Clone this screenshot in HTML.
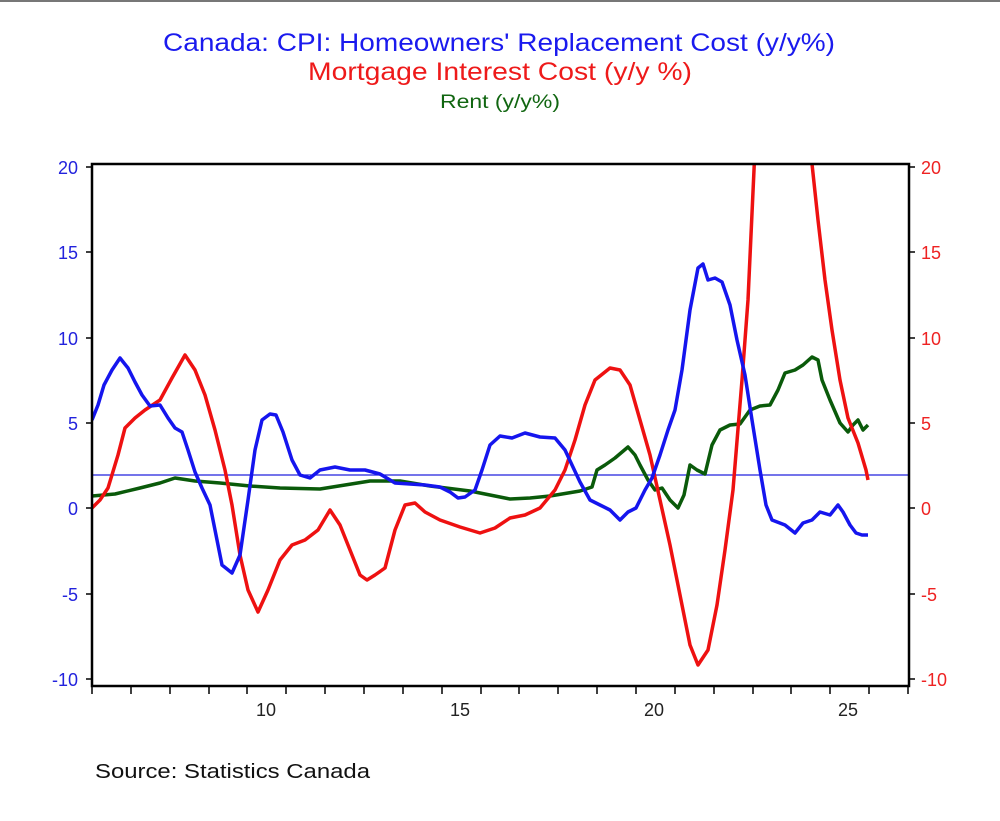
<!DOCTYPE html>
<html><head><meta charset="utf-8"><style>
body{margin:0;background:#fff;}
svg{display:block;font-family:"Liberation Sans",Arial,sans-serif;}
</style></head><body>
<svg width="1000" height="821" viewBox="0 0 1000 821">
<rect width="1000" height="821" fill="#fff"/>
<rect x="0" y="0" width="1000" height="2" fill="#777"/>
<text x="163" y="51" font-size="25" fill="#1a1aee" textLength="672" lengthAdjust="spacingAndGlyphs">Canada: CPI: Homeowners' Replacement Cost (y/y%)</text>
<text x="308" y="80" font-size="25" fill="#ee1a1a" textLength="384" lengthAdjust="spacingAndGlyphs">Mortgage Interest Cost (y/y %)</text>
<text x="440" y="108" font-size="19" fill="#116611" textLength="120" lengthAdjust="spacingAndGlyphs">Rent (y/y%)</text>
<defs><clipPath id="c"><rect x="92" y="164" width="817" height="522"/></clipPath></defs>
<line x1="92" y1="475" x2="909" y2="475" stroke="#2222dd" stroke-width="1.2"/>
<g clip-path="url(#c)" fill="none" stroke-width="3.5" stroke-linejoin="round">
<polyline stroke="#0a5a0a" points="92,496 115,494 140,488 160,483 175,478 195,481 220,483 250,486 280,488 320,489 345,485 370,481 400,481 430,486 470,491 510,499 530,498 550,496 580,491 592,487 597,470 605,465 615,458 628,447 635,455 640,465 648,480 655,490 662,488 670,500 678,508 684,495 690,465 697,470 705,474 712,445 720,430 730,425 740,424 750,410 760,406 770,405 778,390 785,373 795,370 803,365 812,357 818,360 822,380 830,400 840,423 848,432 853,425 858,420 863,430 868,425"/>
<polyline stroke="#ee1111" points="92,508 100,500 108,488 118,455 125,428 135,418 145,410 160,400 172,378 185,355 195,370 205,395 215,430 225,470 232,505 240,555 248,590 258,612 268,590 280,560 292,545 305,540 318,530 330,510 340,525 350,550 360,575 367,580 375,575 385,568 395,530 405,505 415,503 425,512 440,520 460,527 480,533 495,528 510,518 525,515 540,508 555,490 565,470 575,440 585,405 595,380 610,368 620,370 630,385 640,420 650,455 660,500 670,545 680,595 690,645 698,665 708,650 717,605 725,550 733,490 742,380 748,300 754,170 758,80 808,80 812,164 818,220 825,280 832,330 840,380 848,418 858,443 866,470 868,480"/>
<polyline stroke="#1515ee" points="92,420 98,405 104,385 112,370 120,358 128,368 135,382 142,395 150,406 160,405 168,418 175,428 182,432 188,450 195,472 202,488 210,505 216,535 222,565 232,573 240,555 248,500 255,450 262,420 270,414 276,415 283,432 292,460 300,475 310,478 320,470 335,467 350,470 365,470 380,474 395,483 410,484 425,485 440,487 450,492 458,498 465,497 475,490 482,470 490,445 500,436 512,438 525,433 540,437 555,438 565,450 572,465 580,482 590,500 600,505 610,510 620,520 628,512 636,508 645,490 652,478 660,455 668,430 675,410 682,370 690,310 698,268 703,264 708,280 715,278 722,282 730,305 737,340 745,375 752,420 760,470 766,505 772,520 785,525 795,533 803,523 812,520 820,512 830,515 838,505 843,512 850,525 856,533 862,535 868,535"/>
</g>
<rect x="92" y="164" width="817" height="522" fill="none" stroke="#000" stroke-width="2.5"/>
<g stroke="#000" stroke-width="1.5">
<line x1="86" y1="167" x2="92" y2="167"/><line x1="86" y1="252" x2="92" y2="252"/><line x1="86" y1="338" x2="92" y2="338"/><line x1="86" y1="423" x2="92" y2="423"/><line x1="86" y1="508" x2="92" y2="508"/><line x1="86" y1="594" x2="92" y2="594"/><line x1="86" y1="679" x2="92" y2="679"/>
<line x1="909" y1="167" x2="915" y2="167"/><line x1="909" y1="252" x2="915" y2="252"/><line x1="909" y1="338" x2="915" y2="338"/><line x1="909" y1="423" x2="915" y2="423"/><line x1="909" y1="508" x2="915" y2="508"/><line x1="909" y1="594" x2="915" y2="594"/><line x1="909" y1="679" x2="915" y2="679"/>
</g>
<g font-size="18" fill="#2222dd" text-anchor="end">
<text x="78" y="174">20</text><text x="78" y="259">15</text><text x="78" y="345">10</text><text x="78" y="430">5</text><text x="78" y="515">0</text><text x="78" y="601">-5</text><text x="78" y="686">-10</text>
</g>
<g font-size="18" fill="#ee2222" text-anchor="start">
<text x="921" y="174">20</text><text x="921" y="259">15</text><text x="921" y="345">10</text><text x="921" y="430">5</text><text x="921" y="515">0</text><text x="921" y="601">-5</text><text x="921" y="686">-10</text>
</g>
<g font-size="18" fill="#222" text-anchor="middle">
<text x="266" y="716">10</text><text x="460" y="716">15</text><text x="654" y="716">20</text><text x="848" y="716">25</text>
</g>
<g stroke="#000" stroke-width="1.5">
<line x1="92" y1="686" x2="92" y2="694"/><line x1="131" y1="686" x2="131" y2="694"/><line x1="170" y1="686" x2="170" y2="694"/><line x1="209" y1="686" x2="209" y2="694"/><line x1="247" y1="686" x2="247" y2="694"/><line x1="286" y1="686" x2="286" y2="694"/><line x1="325" y1="686" x2="325" y2="694"/><line x1="364" y1="686" x2="364" y2="694"/><line x1="403" y1="686" x2="403" y2="694"/><line x1="442" y1="686" x2="442" y2="694"/><line x1="481" y1="686" x2="481" y2="694"/><line x1="519" y1="686" x2="519" y2="694"/><line x1="558" y1="686" x2="558" y2="694"/><line x1="597" y1="686" x2="597" y2="694"/><line x1="636" y1="686" x2="636" y2="694"/><line x1="675" y1="686" x2="675" y2="694"/><line x1="714" y1="686" x2="714" y2="694"/><line x1="753" y1="686" x2="753" y2="694"/><line x1="791" y1="686" x2="791" y2="694"/><line x1="830" y1="686" x2="830" y2="694"/><line x1="869" y1="686" x2="869" y2="694"/><line x1="908" y1="686" x2="908" y2="694"/>
</g>
<text x="95" y="778" font-size="20" fill="#111" textLength="275" lengthAdjust="spacingAndGlyphs">Source:  Statistics Canada</text>
</svg>
</body></html>
